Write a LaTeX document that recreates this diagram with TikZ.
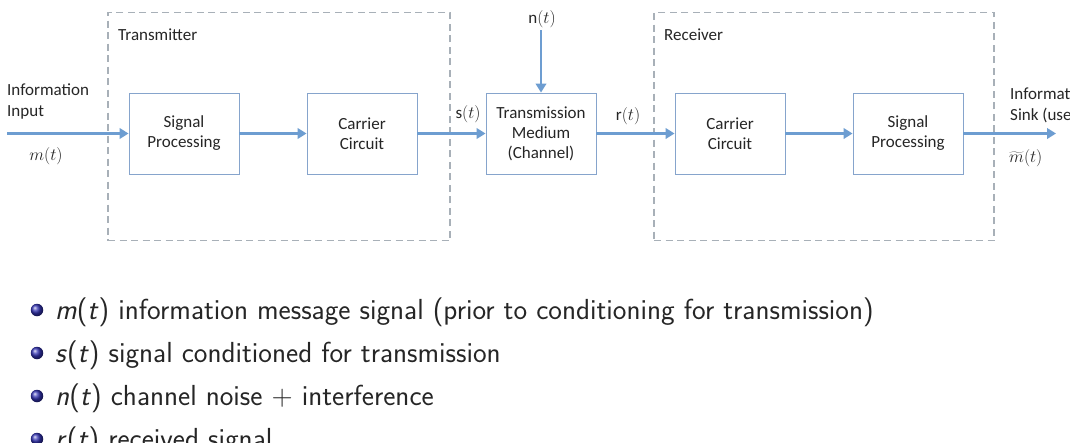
\documentclass[tikz,border=0pt]{standalone}
\usepackage{fontspec}
\setmainfont{Carlito}
\usetikzlibrary{arrows.meta}
\definecolor{boxc}{HTML}{86A4CC}
\definecolor{arrc}{HTML}{6D9DD1}
\definecolor{dashc}{HTML}{A8B0B8}
\definecolor{ballc}{HTML}{3333B3}
\definecolor{txtc}{HTML}{262626}
\begin{document}
\begin{tikzpicture}[x=1pt,y=-1pt,
  blk/.style={draw=boxc,line width=0.9pt,minimum width=110pt,minimum height=81pt,align=center,inner sep=0pt,text=txtc,font=\fontsize{17}{20}\selectfont},
  grp/.style={draw=dashc,line width=1.1pt,dash pattern=on 7pt off 4.5pt,minimum height=228pt,inner sep=0pt},
  flow/.style={draw=arrc,line width=2.8pt,-{Triangle[length=9pt,width=10.5pt]}},
  lbl/.style={font=\fontsize{17}{21}\selectfont,inner sep=0pt,text=txtc},
  mlbl/.style={font=\fontsize{19}{21}\selectfont,inner sep=0pt,text=txtc},
  ball/.style={circle,minimum size=12.5pt,inner sep=0pt,shading=ball,ball color=ballc},
  bul/.style={font=\sffamily\fontsize{29}{34}\selectfont,anchor=base west,inner sep=0pt,text=txtc}]
\useasboundingbox (0,0) rectangle (1070,442);
\clip (0,0) rectangle (1070,442);
\fill[white] (0,0) rectangle (1070,442);
% group frames
\node[grp,minimum width=342pt] (tx) at (279,126.7) {};
\node[grp,minimum width=340pt] (rx) at (824,126.7) {};
% blocks
\node[blk] (tsp) at (184,133.5) {Signal\\Processing};
\node[blk] (tcc) at (362,133.5) {Carrier\\Circuit};
\node[blk] (med) at (541,133.5) {Transmission\\Medium\\(Channel)};
\node[blk] (rcc) at (730,133.5) {Carrier\\Circuit};
\node[blk] (rsp) at (908,133.5) {Signal\\Processing};
% free ends
\coordinate (in) at (7,133.5);
\coordinate (out) at (1056,133.5);
\coordinate (nin) at (541,30);
% connectors
\draw[flow] (in) -- (tsp);
\draw[flow] (tsp) -- (tcc);
\draw[flow] (tcc) -- (med);
\draw[flow] (med) -- (rcc);
\draw[flow] (rcc) -- (rsp);
\draw[flow] (rsp) -- (out);
\draw[flow] (nin) -- (med);
% labels
\node[lbl,anchor=west] (txl) at (118,35) {Transmitter};
\node[lbl,anchor=west] (rxl) at (664,35) {Receiver};
\node[lbl,anchor=west,align=left] (inl) at (7,101.5) {Information\\Input};
\node[mlbl] (ml) at (46,156) {$m(t)$};
\node[lbl] (sl) at (468,114) {s$(t)$};
\node[lbl] (nl) at (542,19) {n$(t)$};
\node[lbl] (rl) at (628,116) {r$(t)$};
\node[lbl,anchor=west,align=left] (outl) at (1010,105.5) {Information\\Sink (user)};
\node[mlbl,anchor=west] (mt) at (1009,158) {$\widetilde{m}(t)$};
% bullets
\node[ball] (b1) at (37,310) {};
\node[ball] (b2) at (37,353) {};
\node[ball] (b3) at (37,396) {};
\node[ball] (b4) at (37,439) {};
\node[bul] (t1) at (55,319) {\textit{m}(\textit{t}) information message signal (prior to conditioning for transmission)};
\node[bul] (t2) at (55,362) {\textit{s}(\textit{t}) signal conditioned for transmission};
\node[bul] (t3) at (55,405) {\textit{n}(\textit{t}) channel noise + interference};
\node[bul] (t4) at (55,448) {\textit{r}(\textit{t}) received signal};
\end{tikzpicture}
\end{document}
